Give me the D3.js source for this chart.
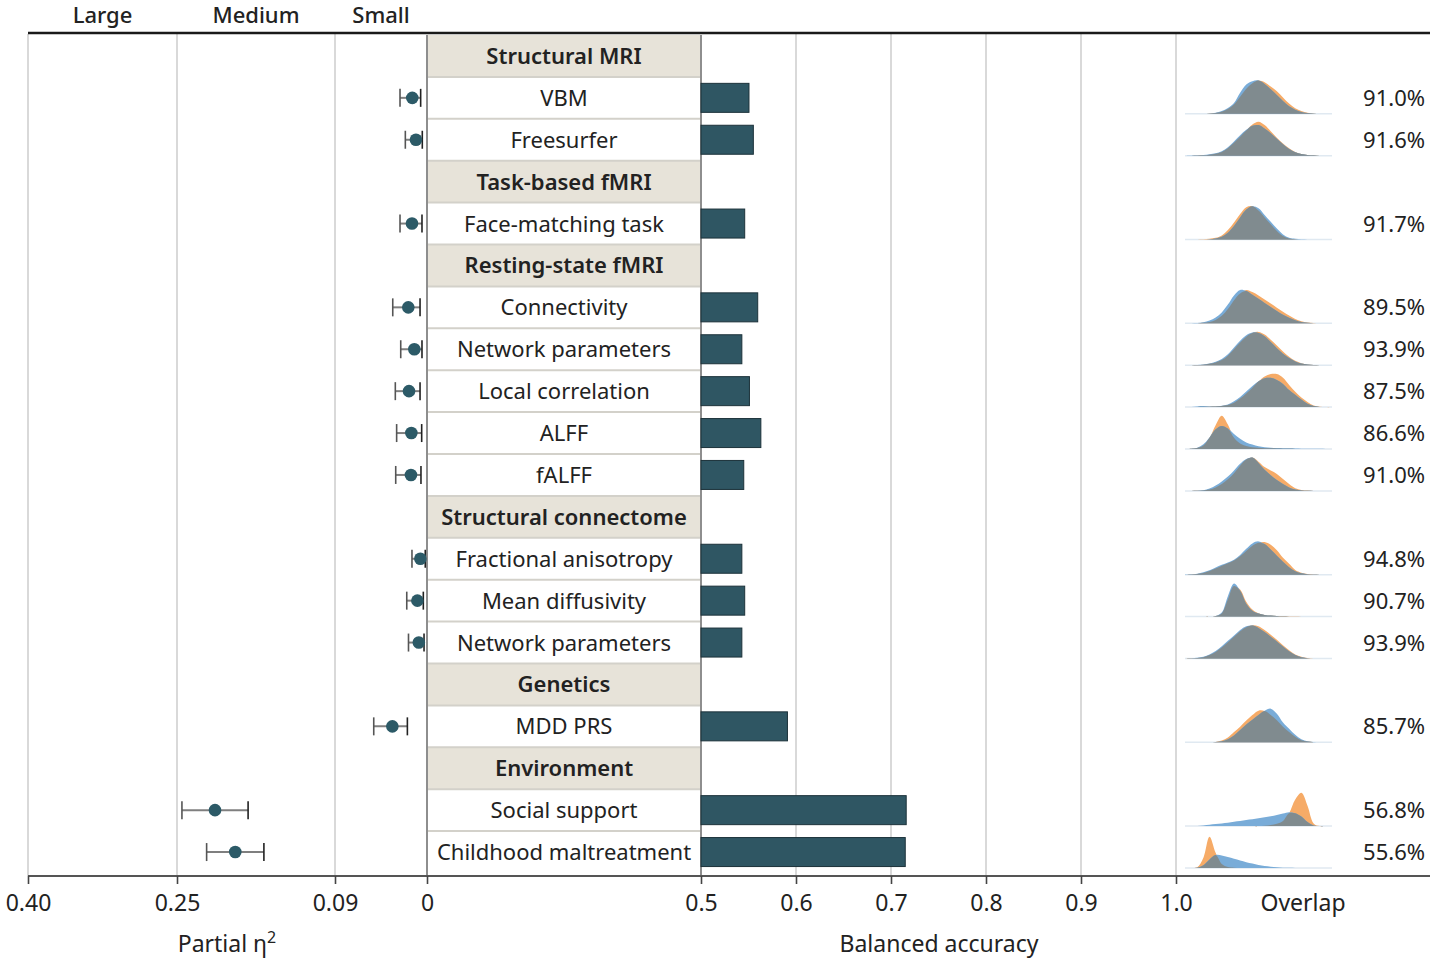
<!DOCTYPE html>
<html>
<head>
<meta charset="utf-8">
<script src="https://cdn.jsdelivr.net/npm/d3@7"></script>
<style>
  body { margin: 0; background: #fff; }
  svg { display: block; font-family: "Noto Sans", "DejaVu Sans", sans-serif; }
</style>
</head>
<body>
<div id="chart"></div>
<script>
// ---- data ----
const groups = ['Structural MRI', 'Task-based fMRI', 'Resting-state fMRI', 'Structural connectome', 'Genetics', 'Environment'];
const modalities = ['VBM', 'Freesurfer', 'Face-matching task', 'Connectivity', 'Network parameters',
  'Local correlation', 'ALFF', 'fALFF', 'Fractional anisotropy', 'Mean diffusivity',
  'Network parameters', 'MDD PRS', 'Social support', 'Childhood maltreatment'];
const modalityGroup = [0, 0, 1, 2, 2, 2, 2, 2, 3, 3, 3, 4, 5, 5];

const etaValue = [0.0144, 0.0108, 0.0147, 0.0183, 0.0124, 0.0176, 0.0153, 0.0157, 0.0065, 0.0094, 0.0080, 0.0339, 0.2115, 0.191];
const etaLower = [0.0062, 0.0046, 0.0049, 0.0068, 0.0049, 0.0068, 0.0052, 0.0059, 0.0017, 0.0036, 0.0029, 0.0192, 0.178, 0.162];
const etaUpper = [0.0264, 0.0212, 0.0264, 0.0335, 0.0257, 0.0310, 0.0297, 0.0306, 0.0147, 0.0198, 0.0181, 0.0521, 0.245, 0.220];

const accuracy = [0.5505, 0.5551, 0.546, 0.5597, 0.543, 0.551, 0.563, 0.545, 0.543, 0.546, 0.543, 0.591, 0.716, 0.715];
const overlap = ['91.0%', '91.6%', '91.7%', '89.5%', '93.9%', '87.5%', '86.6%', '91.0%', '94.8%', '90.7%', '93.9%', '85.7%', '56.8%', '55.6%'];

const etaTicks = [0.40, 0.25, 0.09, 0];
const etaTickLabels = ['0.40', '0.25', '0.09', '0'];
const accTicks = [0.5, 0.6, 0.7, 0.8, 0.9, 1.0];
const effectLabels = ['Large', 'Medium', 'Small'];
const effectCenters = [0.325, 0.17, 0.045];

// density heights (relative) on a 25-step grid, orange = group 1, blue = group 2
const densityOrange = [
  [0,0,0,0,0.01,0.02,0.06,0.14,0.27,0.5,0.74,0.9,0.98,0.93,0.8,0.66,0.48,0.3,0.16,0.08,0.03,0.01,0,0,0],
  [0,0,0.005,0.01,0.03,0.06,0.11,0.22,0.38,0.56,0.74,0.92,1.0,0.9,0.72,0.53,0.36,0.22,0.11,0.05,0.02,0.01,0,0,0],
  [0,0,0,0.005,0.02,0.05,0.12,0.28,0.5,0.75,0.95,0.98,0.85,0.65,0.45,0.25,0.1,0.03,0.01,0,0,0,0,0,0],
  [0,0,0.005,0.015,0.04,0.1,0.22,0.42,0.68,0.88,0.98,0.92,0.82,0.7,0.58,0.46,0.34,0.23,0.13,0.06,0.02,0.01,0,0,0],
  [0,0,0.005,0.015,0.04,0.08,0.15,0.28,0.47,0.67,0.84,0.95,0.98,0.9,0.75,0.58,0.4,0.25,0.13,0.06,0.02,0.005,0,0,0],
  [0,0,0.005,0.01,0.01,0.015,0.03,0.06,0.13,0.25,0.4,0.57,0.75,0.9,0.97,0.97,0.86,0.65,0.45,0.28,0.15,0.05,0.01,0,0],
  [0,0.01,0.03,0.1,0.33,0.7,0.98,0.72,0.33,0.16,0.09,0.05,0.035,0.025,0.02,0.015,0.01,0.005,0,0,0,0,0,0,0],
  [0,0,0.005,0.01,0.04,0.1,0.2,0.34,0.52,0.74,0.92,0.98,0.86,0.7,0.6,0.5,0.35,0.2,0.08,0.03,0.01,0,0,0,0],
  [0,0.005,0.02,0.05,0.11,0.18,0.26,0.34,0.42,0.54,0.7,0.85,0.94,0.96,0.88,0.72,0.5,0.32,0.14,0.06,0.02,0.005,0,0,0],
  [0,0,0,0,0,0.015,0.09,0.5,0.9,0.8,0.44,0.21,0.1,0.05,0.03,0.02,0.015,0.01,0.01,0.005,0,0,0,0,0],
  [0,0.005,0.015,0.04,0.1,0.19,0.32,0.48,0.64,0.8,0.92,0.98,0.95,0.84,0.7,0.55,0.39,0.24,0.12,0.05,0.015,0,0,0,0],
  [0,0,0,0,0,0.01,0.05,0.14,0.3,0.46,0.64,0.8,0.93,0.92,0.8,0.65,0.46,0.3,0.16,0.06,0.02,0.005,0,0,0],
  [0,0,0,0,0,0,0,0,0,0,0,0,0,0.01,0.03,0.07,0.15,0.38,0.78,0.98,0.6,0.08,0,0,0],
  [0,0,0.02,0.3,0.92,0.45,0.12,0.03,0.01,0,0,0,0,0,0,0,0,0,0,0,0,0,0,0,0]
];
const densityBlue = [
  [0,0,0,0,0.01,0.03,0.08,0.17,0.32,0.62,0.86,0.96,0.98,0.88,0.72,0.55,0.38,0.22,0.12,0.05,0.02,0.01,0,0,0],
  [0,0.005,0.01,0.02,0.04,0.07,0.13,0.25,0.42,0.6,0.76,0.88,0.9,0.8,0.66,0.5,0.34,0.2,0.1,0.05,0.02,0.01,0,0,0],
  [0,0,0,0,0.01,0.03,0.08,0.2,0.4,0.65,0.88,0.98,0.92,0.72,0.52,0.32,0.15,0.05,0.02,0.005,0,0,0,0,0],
  [0,0.005,0.01,0.03,0.08,0.17,0.32,0.55,0.82,0.98,0.95,0.84,0.72,0.6,0.48,0.36,0.25,0.16,0.09,0.04,0.015,0.005,0,0,0],
  [0,0,0.005,0.02,0.05,0.1,0.18,0.32,0.52,0.72,0.88,0.96,0.95,0.85,0.68,0.5,0.34,0.21,0.11,0.05,0.02,0.005,0,0,0],
  [0,0.005,0.02,0.03,0.02,0.02,0.04,0.08,0.17,0.3,0.46,0.62,0.76,0.85,0.86,0.8,0.68,0.5,0.36,0.22,0.1,0.03,0.005,0,0],
  [0,0.01,0.04,0.14,0.34,0.58,0.68,0.6,0.44,0.3,0.19,0.13,0.08,0.05,0.04,0.03,0.025,0.02,0.015,0.01,0.01,0.005,0.005,0,0],
  [0,0,0.005,0.02,0.07,0.16,0.28,0.42,0.6,0.8,0.94,0.98,0.82,0.62,0.46,0.32,0.2,0.1,0.04,0.015,0.005,0,0,0,0],
  [0,0.01,0.03,0.07,0.13,0.21,0.29,0.36,0.44,0.58,0.76,0.92,0.98,0.9,0.74,0.56,0.38,0.22,0.1,0.04,0.015,0.005,0,0,0],
  [0,0,0,0,0.005,0.02,0.12,0.6,0.97,0.76,0.38,0.17,0.09,0.05,0.03,0.02,0.01,0.005,0,0,0,0,0,0,0],
  [0,0.005,0.02,0.05,0.12,0.22,0.36,0.52,0.68,0.84,0.95,0.97,0.9,0.78,0.64,0.5,0.35,0.21,0.1,0.04,0.01,0,0,0,0],
  [0,0,0,0,0,0.01,0.03,0.09,0.2,0.36,0.52,0.66,0.8,0.93,0.99,0.84,0.58,0.4,0.22,0.09,0.03,0.01,0,0,0],
  [0,0,0.005,0.02,0.04,0.06,0.08,0.1,0.13,0.15,0.18,0.2,0.23,0.26,0.29,0.33,0.37,0.41,0.38,0.28,0.12,0.02,0,0,0],
  [0,0,0.01,0.08,0.25,0.38,0.37,0.32,0.27,0.22,0.17,0.13,0.09,0.06,0.04,0.02,0.01,0.005,0,0,0,0,0,0,0]
];

// ---- layout ----
const W = 1436, H = 963;
const TOP = 35, BOTTOM = 873, AXIS_Y = 876;
const TABLE_L = 427, TABLE_R = 701;

// table rows: group headers followed by their modalities
const rows = [];
groups.forEach((g, gi) => {
  rows.push({ label: g, header: true });
  modalities.forEach((m, i) => { if (modalityGroup[i] === gi) rows.push({ label: m, header: false, idx: i }); });
});

const svg = d3.select('#chart').append('svg').attr('width', W).attr('height', H);

const etaX = d3.scaleLinear().domain(etaTicks).range([28, 177, 335, 427]);
const accX = d3.scaleLinear().domain([0.5, 1.0]).range([TABLE_R, 1176]);
const rowY = d3.scaleBand().domain(d3.range(rows.length)).range([TOP, BOTTOM]);
const densX = d3.scaleLinear().domain([0, 24]).range([1185, 1332]);
const densH = d3.scaleLinear().domain([0, 1]).range([0, 34]);

const rowOf = i => rows.findIndex(r => r.idx === i);
const cy = i => rowY(rowOf(i)) + rowY.bandwidth() / 2;

// gridlines
const gGrid = svg.append('g');
gGrid.selectAll('line.eta').data(etaTicks.slice(0, 3)).join('line')
  .attr('x1', d => etaX(d)).attr('x2', d => etaX(d))
  .attr('y1', 34).attr('y2', AXIS_Y)
  .attr('stroke', '#d9d9d9').attr('stroke-width', 2);
gGrid.selectAll('line.acc').data(accTicks.slice(1)).join('line')
  .attr('x1', d => accX(d)).attr('x2', d => accX(d))
  .attr('y1', 34).attr('y2', AXIS_Y)
  .attr('stroke', '#d9d9d9').attr('stroke-width', 2);

// table
const gTable = svg.append('g');
gTable.selectAll('rect').data(rows).join('rect')
  .attr('x', TABLE_L).attr('y', (d, i) => rowY(i))
  .attr('width', TABLE_R - TABLE_L).attr('height', rowY.bandwidth())
  .attr('fill', d => d.header ? '#e7e3d9' : '#fff');
gTable.selectAll('line.sep').data(d3.range(1, rows.length)).join('line')
  .attr('x1', TABLE_L).attr('x2', TABLE_R)
  .attr('y1', i => rowY(i)).attr('y2', i => rowY(i))
  .attr('stroke', '#d3d1ca').attr('stroke-width', 2);
gTable.selectAll('text').data(rows).join('text')
  .attr('x', (TABLE_L + TABLE_R) / 2)
  .attr('y', (d, i) => rowY(i) + rowY.bandwidth() / 2 + 8)
  .attr('text-anchor', 'middle')
  .attr('font-size', 22)
  .attr('font-weight', d => d.header ? 600 : 400)
  .attr('fill', '#222')
  .text(d => d.label);
gTable.selectAll('line.border').data([TABLE_L, TABLE_R]).join('line')
  .attr('x1', d => d).attr('x2', d => d)
  .attr('y1', TOP).attr('y2', AXIS_Y)
  .attr('stroke', '#8e8e8e').attr('stroke-width', 2);

// top rule and effect labels
svg.append('line').attr('x1', 28).attr('x2', 1430).attr('y1', 33).attr('y2', 33)
  .attr('stroke', '#1a1a1a').attr('stroke-width', 2.5);
svg.selectAll('text.effect').data(effectLabels).join('text')
  .attr('x', (d, i) => etaX(effectCenters[i]))
  .attr('y', 23).attr('text-anchor', 'middle')
  .attr('font-size', 22).attr('font-weight', 500).attr('fill', '#222')
  .text(d => d);

// partial eta squared with intervals
const gEta = svg.append('g');
const items = d3.range(modalities.length);
gEta.selectAll('line.ci').data(items).join('line')
  .attr('x1', i => etaX(etaUpper[i])).attr('x2', i => etaX(etaLower[i]))
  .attr('y1', cy).attr('y2', cy)
  .attr('stroke', '#7f7f7f').attr('stroke-width', 2);
['lo', 'hi'].forEach(k => {
  gEta.selectAll('line.cap-' + k).data(items).join('line')
    .attr('x1', i => etaX(k === 'lo' ? etaLower[i] : etaUpper[i]))
    .attr('x2', i => etaX(k === 'lo' ? etaLower[i] : etaUpper[i]))
    .attr('y1', i => cy(i) - 9).attr('y2', i => cy(i) + 9)
    .attr('stroke', k === 'lo' ? '#222' : '#555').attr('stroke-width', 1.6);
});
gEta.selectAll('circle').data(items).join('circle')
  .attr('cx', i => etaX(etaValue[i])).attr('cy', cy).attr('r', 6.3)
  .attr('fill', '#2c5a67');

// balanced accuracy bars
svg.append('g').selectAll('rect').data(items).join('rect')
  .attr('x', accX(0.5)).attr('y', i => cy(i) - 14.5)
  .attr('width', i => accX(accuracy[i]) - accX(0.5)).attr('height', 29)
  .attr('fill', '#2f5663').attr('stroke', '#1c323a').attr('stroke-width', 1);

// overlap densities
const gDens = svg.append('g');
items.forEach(i => {
  const base = rowY(rowOf(i)) + rowY.bandwidth() - 5;
  const area = d3.area().curve(d3.curveCatmullRom.alpha(0.5))
    .x((d, j) => densX(j)).y0(base).y1(d => base - densH(Math.max(0, d)));
  const both = densityOrange[i].map((v, j) => Math.min(v, densityBlue[i][j]));
  gDens.append('line').attr('x1', densX(0)).attr('x2', densX(24))
    .attr('y1', base).attr('y2', base).attr('stroke', '#e0e9f1').attr('stroke-width', 1.5);
  gDens.append('path').datum(densityOrange[i]).attr('d', area).attr('fill', '#f6ab67');
  gDens.append('path').datum(densityBlue[i]).attr('d', area).attr('fill', '#79acd8');
  gDens.append('path').datum(both).attr('d', area).attr('fill', '#808b8f');
});
svg.append('g').selectAll('text').data(items).join('text')
  .attr('x', 1425).attr('y', i => cy(i) + 8)
  .attr('text-anchor', 'end').attr('font-size', 22).attr('fill', '#222')
  .text(i => overlap[i]);

// bottom axes
svg.append('line').attr('x1', 28).attr('x2', 1430).attr('y1', AXIS_Y).attr('y2', AXIS_Y)
  .attr('stroke', '#555').attr('stroke-width', 1.8);
const etaAxis = d3.axisBottom(etaX).tickValues(etaTicks).tickSize(8).tickPadding(11)
  .tickFormat((d, i) => etaTickLabels[i]);
const accAxis = d3.axisBottom(accX).tickValues(accTicks).tickSize(8).tickPadding(11)
  .tickFormat(d3.format('.1f'));
[etaAxis, accAxis].forEach(ax => {
  const g = svg.append('g').attr('transform', `translate(0,${AXIS_Y})`).call(ax);
  g.select('.domain').remove();
  g.selectAll('.tick line').attr('stroke', '#444').attr('stroke-width', 1.6);
  g.selectAll('.tick text').attr('font-size', 23).attr('fill', '#222')
    .attr('font-family', '"Noto Sans", sans-serif');
});
svg.append('text').attr('x', 1303).attr('y', 911).attr('text-anchor', 'middle')
  .attr('font-size', 23).attr('fill', '#222').text('Overlap');

// axis titles
const t1 = svg.append('text').attr('x', 227).attr('y', 952).attr('text-anchor', 'middle')
  .attr('font-size', 23).attr('fill', '#222');
t1.append('tspan').text('Partial η');
t1.append('tspan').attr('dy', -9).attr('font-size', 16).text('2');
svg.append('text').attr('x', 939).attr('y', 952).attr('text-anchor', 'middle')
  .attr('font-size', 23).attr('fill', '#222').text('Balanced accuracy');
</script>
</body>
</html>
